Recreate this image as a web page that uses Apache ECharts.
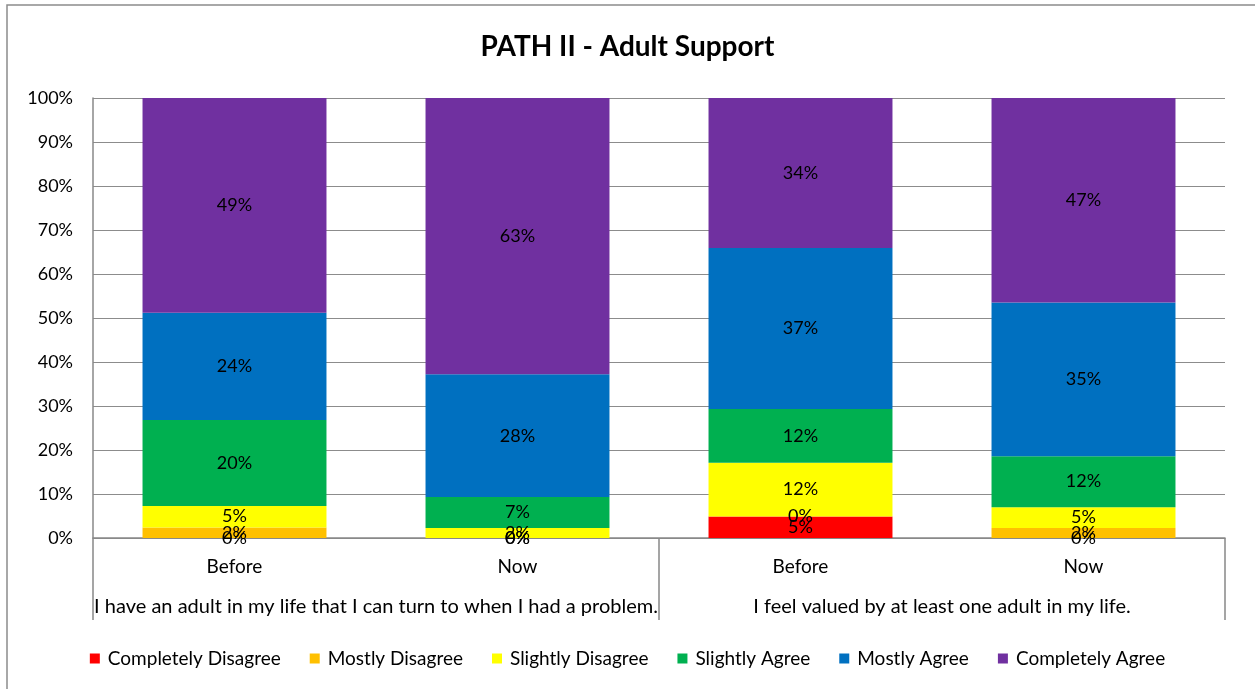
<!DOCTYPE html>
<html>
<head>
<meta charset="utf-8">
<script src="https://cdn.jsdelivr.net/npm/echarts@6/dist/echarts.min.js"></script>
<style>
  html, body { margin: 0; padding: 0; background: #fff; }
  #chart { width: 1255px; height: 689px; }
</style>
</head>
<body>
<div id="chart"></div>
<script>
// Response shares (%) for each answer, per statement and time point
const periods = ['Before', 'Now', 'Before', 'Now'];
const statements = [
  'I have an adult in my life that I can turn to when I had a problem.',
  'I feel valued by at least one adult in my life.'
];
const answerNames = ['Completely Disagree', 'Mostly Disagree', 'Slightly Disagree',
  'Slightly Agree', 'Mostly Agree', 'Completely Agree'];
const answerColors = ['#FF0000', '#FFC000', '#FFFF00', '#00B050', '#0070C0', '#7030A0'];

const completelyDisagree = [0, 0, 4.9, 0];
const mostlyDisagree     = [2.4, 0, 0, 2.3];
const slightlyDisagree   = [4.9, 2.3, 12.2, 4.7];
const slightlyAgree      = [19.5, 7.0, 12.2, 11.6];
const mostlyAgree        = [24.4, 27.9, 36.6, 34.9];
const completelyAgree    = [48.8, 62.8, 34.1, 46.5];

const yTicks = [0, 10, 20, 30, 40, 50, 60, 70, 80, 90, 100];

const answerValues = [completelyDisagree, mostlyDisagree, slightlyDisagree,
  slightlyAgree, mostlyAgree, completelyAgree];

const FONT = 'Lato, "Open Sans", sans-serif';
const chart = echarts.init(document.getElementById('chart'));

chart.setOption({
  animation: false,
  textStyle: { fontFamily: FONT },
  title: {
    text: 'PATH II - Adult Support',
    left: 'center',
    top: 28,
    textStyle: { fontFamily: FONT, fontSize: 28, fontWeight: 'bold', color: '#000' }
  },
  graphic: [{
    type: 'rect',
    shape: { x: 7, y: 5, width: 1260, height: 700 },
    style: { fill: 'none', stroke: '#8c8c8c', lineWidth: 1.5 },
    silent: true
  }],
  legend: {
    top: 644,
    left: 'center',
    icon: 'rect',
    itemWidth: 10,
    itemHeight: 10,
    itemGap: 29,
    textStyle: { fontFamily: FONT, fontSize: 19, color: '#000', padding: [0, 0, 0, 3] },
    data: answerNames
  },
  grid: { left: 93, right: 30, top: 98, bottom: 151 },
  xAxis: [{
    type: 'category',
    data: periods,
    position: 'bottom',
    axisLine: { lineStyle: { color: '#888', width: 1.5 } },
    axisTick: { show: false },
    axisLabel: { color: '#000', fontSize: 19, margin: 19, fontFamily: FONT }
  }, {
    type: 'category',
    data: statements,
    position: 'bottom',
    axisLine: { show: false },
    axisTick: { show: true, length: 82, lineStyle: { color: '#888', width: 1.5 } },
    axisLabel: { color: '#000', fontSize: 20, margin: 59, fontFamily: FONT, interval: 0 }
  }],
  yAxis: {
    type: 'value',
    min: yTicks[0],
    max: yTicks[yTicks.length - 1],
    interval: 10,
    axisLine: { show: true, lineStyle: { color: '#888', width: 1.5 } },
    axisTick: { show: false },
    axisLabel: { formatter: '{value}%', color: '#000', fontSize: 18, margin: 20, fontFamily: FONT },
    splitLine: { lineStyle: { color: '#8c8c8c', width: 1 } }
  },
  series: answerNames.map((name, i) => ({
    name: name,
    type: 'bar',
    stack: 'total',
    xAxisIndex: 0,
    barWidth: '65%',
    itemStyle: { color: answerColors[i] },
    label: {
      show: true,
      position: 'inside',
      color: '#000',
      fontSize: 18,
      fontFamily: FONT,
      formatter: p => Math.round(p.value) + '%'
    },
    data: answerValues[i]
  }))
});
</script>
</body>
</html>
